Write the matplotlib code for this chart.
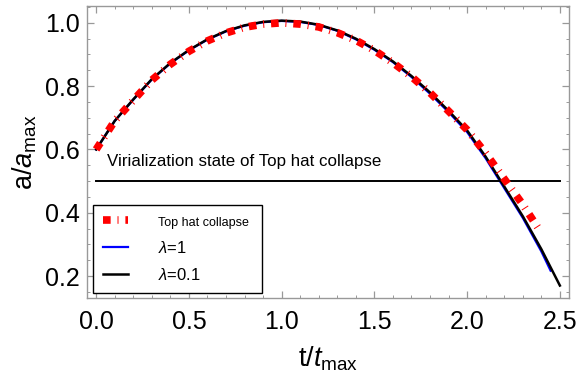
import matplotlib
matplotlib.use("Agg")
import matplotlib.pyplot as plt
from matplotlib.ticker import MultipleLocator

# values
t_red = [0.0, 0.1, 0.2, 0.3, 0.4, 0.5, 0.6, 0.7, 0.8, 0.9, 1.0, 1.1, 1.2,
         1.3, 1.4, 1.5, 1.6, 1.7, 1.8, 1.9, 2.0, 2.1, 2.2, 2.3, 2.39]
a_red = [0.600, 0.690, 0.755, 0.819, 0.869, 0.910, 0.943, 0.968, 0.986, 0.996,
         1.000, 0.996, 0.987, 0.969, 0.945, 0.913, 0.874, 0.830, 0.779, 0.721,
         0.662, 0.588, 0.507, 0.426, 0.345]

t_black = [0.0, 0.1, 0.2, 0.3, 0.4, 0.5, 0.6, 0.7, 0.8, 0.9, 1.0, 1.1, 1.2,
           1.3, 1.4, 1.5, 1.6, 1.7, 1.8, 1.9, 2.0, 2.1, 2.2, 2.3, 2.4, 2.5]
a_black = [0.600, 0.690, 0.758, 0.822, 0.873, 0.914, 0.948, 0.974, 0.992, 1.003,
           1.007, 1.004, 0.994, 0.976, 0.950, 0.917, 0.878, 0.832, 0.780, 0.722,
           0.660, 0.577, 0.483, 0.389, 0.285, 0.170]

t_blue = [0.0, 0.1, 0.2, 0.3, 0.4, 0.5, 0.6, 0.7, 0.8, 0.9, 1.0, 1.1, 1.2,
          1.3, 1.4, 1.5, 1.6, 1.7, 1.8, 1.9, 2.0, 2.1, 2.2, 2.3, 2.4, 2.45]
a_blue = [0.600, 0.690, 0.757, 0.821, 0.872, 0.913, 0.947, 0.973, 0.991, 1.002,
          1.006, 1.003, 0.993, 0.975, 0.948, 0.915, 0.876, 0.829, 0.776, 0.718,
          0.655, 0.572, 0.478, 0.384, 0.278, 0.217]

vir_level = 0.5
vir_text = "Virialization state of Top hat collapse"
labels = ["Top hat collapse", r"$\lambda$=1", r"$\lambda$=0.1"]

plt.rcParams['font.family'] = ['Liberation Sans', 'DejaVu Sans']
plt.rcParams['mathtext.fontset'] = 'custom'
plt.rcParams['mathtext.rm'] = 'Liberation Sans'
plt.rcParams['mathtext.it'] = 'Liberation Sans:italic'
plt.rcParams['mathtext.bf'] = 'Liberation Sans:bold'


def main():
    fig = plt.figure(figsize=(5.79, 3.79), dpi=100)
    ax = fig.add_axes([0.150, 0.214, 0.833, 0.770])

    l_blue, = ax.plot(t_blue, a_blue, color='blue', lw=1.6, zorder=2)
    l_black, = ax.plot(t_black, a_black, color='black', lw=1.8, zorder=3)
    l_red, = ax.plot(t_red, a_red, color='red', lw=5.5,
                     linestyle=(0, (1.0, 0.9, 0.13, 0.9)),
                     dash_capstyle='butt', zorder=4)

    ax.plot([0.0, 2.5], [vir_level, vir_level], color='black', lw=1.4, zorder=3)
    ax.text(0.06, 0.561, vir_text, fontsize=12.2, va='center', ha='left')

    ax.set_xlim(-0.05, 2.55)
    ax.set_ylim(0.131, 1.053)
    ax.xaxis.set_major_locator(MultipleLocator(0.5))
    ax.xaxis.set_minor_locator(MultipleLocator(0.1))
    ax.yaxis.set_major_locator(MultipleLocator(0.2))
    ax.yaxis.set_minor_locator(MultipleLocator(0.05))
    ax.xaxis.set_major_formatter(lambda v, p: "%.1f" % v)
    ax.yaxis.set_major_formatter(lambda v, p: "%.1f" % v)

    for s in ax.spines.values():
        s.set_color('#999999')
        s.set_linewidth(1.0)
    ax.tick_params(which='both', direction='in', top=True, right=True,
                   color='#999999', labelcolor='black', labelsize=18)
    ax.tick_params(which='major', length=5, width=0.9)
    ax.tick_params(which='minor', length=2.5, width=0.7)
    ax.tick_params(axis='x', which='major', pad=8.5)
    ax.tick_params(axis='y', which='major', pad=5)

    ax.set_xlabel(r"t/$t_{\mathrm{max}}$", fontsize=19.5, labelpad=8)
    ax.set_ylabel(r"a/$a_{\mathrm{max}}$", fontsize=19.5, labelpad=4)

    leg = ax.legend([l_red, l_blue, l_black], labels,
                    loc='lower left', bbox_to_anchor=(0.012, 0.017, 0.351, 0.3),
                    mode='expand', borderaxespad=0, fontsize=12,
                    handlelength=1.5, handletextpad=1.8, labelspacing=0.65,
                    borderpad=0.6, fancybox=False, edgecolor='black',
                    framealpha=1)
    leg.get_frame().set_linewidth(1.0)
    leg.get_texts()[0].set_fontsize(9)

    fig.savefig("out.png", dpi=100)
    return True


if __name__ == "__main__":
    main()
